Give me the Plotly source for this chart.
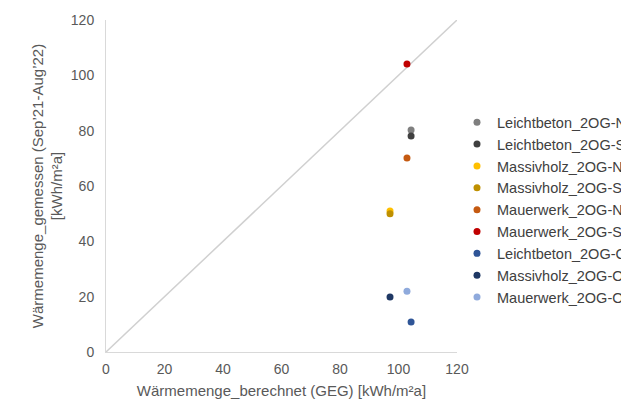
import plotly.graph_objects as go

names = ["Leichtbeton_2OG-N", "Leichtbeton_2OG-S", "Massivholz_2OG-N", "Massivholz_2OG-S",
         "Mauerwerk_2OG-N", "Mauerwerk_2OG-S", "Leichtbeton_2OG-O", "Massivholz_2OG-O", "Mauerwerk_2OG-O"]
x_berechnet = [104.3, 104.3, 97.1, 97.1, 102.9, 102.9, 104.3, 97.1, 102.9]
y_gemessen = [80.2, 78.1, 51.0, 50.0, 70.1, 104.1, 10.8, 19.9, 22.0]
colors = ["#7f7f7f", "#404040", "#ffc000", "#bf9000", "#c55a11", "#c00000", "#2f5597", "#1f3864", "#8faadc"]
diag = [0, 120]
ticks = [0, 20, 40, 60, 80, 100, 120]

FONT = "Liberation Sans, Arial, sans-serif"

fig = go.Figure()
fig.add_trace(go.Scatter(x=diag, y=diag, mode="lines", line=dict(color="#d0d0d0", width=1.5),
                         showlegend=False, hoverinfo="skip"))
for n, xv, yv, c in zip(names, x_berechnet, y_gemessen, colors):
    fig.add_trace(go.Scatter(x=[xv], y=[yv], mode="markers", name=n, legendgroup=n,
                             marker=dict(color=c, size=7)))

fig.update_layout(
    width=629, height=402,
    margin=dict(l=98, r=180, t=12, b=58, autoexpand=False),
    paper_bgcolor="white", plot_bgcolor="white",
    font=dict(family=FONT, size=14, color="#595959"),
    legend=dict(x=1.0, xanchor="left", y=0.74, yanchor="top",
                font=dict(family=FONT, size=14.5, color="#404040"),
                itemwidth=30, tracegroupgap=0, bgcolor="rgba(0,0,0,0)"),
    xaxis=dict(range=[0, 120], tickvals=ticks, showgrid=False, zeroline=False,
               showline=True, linecolor="#d9d9d9", linewidth=1, ticks="",
               tickfont=dict(size=14, color="#595959"), ticklabelstandoff=4,
               title=dict(text="Wärmemenge_berechnet (GEG) [kWh/m²a]", standoff=9,
                          font=dict(size=15, color="#595959")),
               automargin=False),
    yaxis=dict(range=[0, 120], tickvals=ticks, showgrid=False, zeroline=False,
               showline=True, linecolor="#d9d9d9", linewidth=1, ticks="",
               tickfont=dict(size=14, color="#595959"), ticklabelstandoff=8,
               title=dict(text="Wärmemenge_gemessen (Sep’21-Aug’22)<br>[kWh/m²a]", standoff=4,
                          font=dict(size=15, color="#595959")),
               automargin=False),
)
fig.write_html("out.html")
